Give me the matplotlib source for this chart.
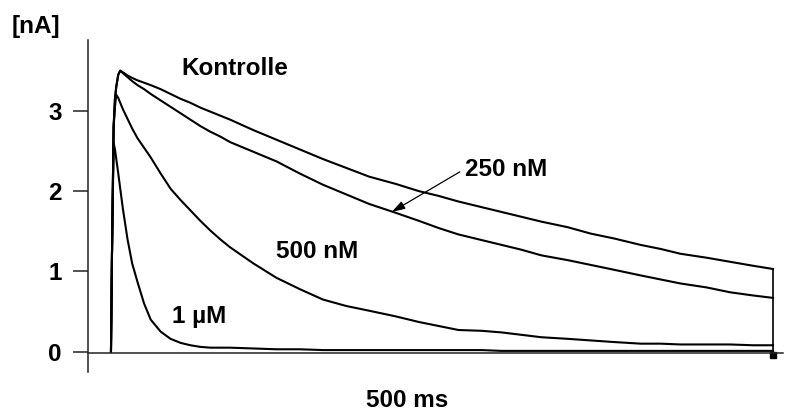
import matplotlib
matplotlib.use("Agg")
import matplotlib.pyplot as plt

plt.rcParams['font.family'] = ['Liberation Sans', 'DejaVu Sans']

# Sampling times (ms) after the voltage step
time_ms = [0, 1.5, 4, 6, 8, 11, 14, 18, 25, 32, 40, 50, 60, 75, 90, 105, 120,
           135, 150, 165, 180, 215, 250, 285, 320, 355, 390, 430, 465, 495,
           525, 560, 590, 620, 650, 690, 725, 760, 800, 830, 860, 900, 935,
           970, 1000]

# Current traces (nA)
kontrolle = [0, 1.2, 2.8, 3.15, 3.3, 3.45, 3.50, 3.48, 3.44, 3.41, 3.38, 3.35,
             3.32, 3.27, 3.21, 3.15, 3.10, 3.04, 2.99, 2.94, 2.89, 2.76, 2.64,
             2.52, 2.40, 2.29, 2.18, 2.09, 2.00, 1.94, 1.87, 1.80, 1.74, 1.68,
             1.62, 1.55, 1.47, 1.41, 1.33, 1.28, 1.22, 1.17, 1.12, 1.07, 1.03]
nm_250 = [0, 1.2, 2.8, 3.15, 3.3, 3.45, 3.50, 3.47, 3.42, 3.37, 3.32, 3.27,
          3.21, 3.13, 3.05, 2.97, 2.89, 2.81, 2.74, 2.68, 2.61, 2.49, 2.37,
          2.22, 2.08, 1.96, 1.84, 1.73, 1.63, 1.54, 1.46, 1.39, 1.33, 1.27,
          1.20, 1.14, 1.08, 1.02, 0.95, 0.90, 0.85, 0.80, 0.74, 0.70, 0.67]
nm_500 = [0, 1.2, 2.8, 3.05, 3.20, 3.16, 3.10, 3.02, 2.90, 2.78, 2.66, 2.54,
          2.42, 2.22, 2.03, 1.89, 1.76, 1.63, 1.51, 1.40, 1.30, 1.10, 0.92,
          0.78, 0.65, 0.57, 0.51, 0.44, 0.37, 0.32, 0.27, 0.26, 0.24, 0.21,
          0.18, 0.16, 0.14, 0.12, 0.10, 0.10, 0.09, 0.09, 0.09, 0.08, 0.08]
um_1 = [0, 1.2, 2.60, 2.52, 2.40, 2.22, 2.03, 1.78, 1.40, 1.10, 0.87, 0.60,
        0.40, 0.25, 0.16, 0.11, 0.08, 0.06, 0.05, 0.05, 0.05, 0.04, 0.03,
        0.03, 0.02, 0.02, 0.02, 0.02, 0.02, 0.02, 0.02, 0.02, 0.01, 0.01,
        0.01, 0.01, 0.01, 0.01, 0.01, 0.01, 0.01, 0.01, 0.01, 0.01, 0.01]

yticks = [0, 1, 2, 3]
ytick_labels = ["0", "1", "2", "3"]

fig = plt.figure(figsize=(7.88, 4.12), dpi=100)
ax = fig.add_axes([88 / 788, 40 / 412, 695 / 788, 332 / 412])

lw = 1.5
for trace in (kontrolle, nm_250, nm_500, um_1):
    ax.plot(time_ms, trace, color="black", lw=lw, solid_joinstyle="round")

# end of the sweep: return to baseline
ax.vlines(time_ms[-1], -0.03, kontrolle[-1], color="black", lw=1.2)
ax.plot([time_ms[-1]], [-0.04], marker="s", ms=4, color="black")

ax.set_xlim(-34.7, 1015.1)
ax.set_ylim(-0.253, 3.882)

for s in ("top", "right"):
    ax.spines[s].set_visible(False)
ax.spines["bottom"].set_position(("data", -0.02))
ax.spines["left"].set_linewidth(1.1)
ax.spines["bottom"].set_linewidth(1.1)
ax.spines["left"].set_color("#222222")
ax.spines["bottom"].set_color("#222222")

ax.set_xticks([])
ax.set_yticks(yticks)
ax.set_yticklabels(ytick_labels, fontsize=17.5, fontweight="bold")
ax.tick_params(axis="y", direction="out", length=11, width=1.1, pad=8,
               color="#222222")

tkw = dict(fontsize=17.5, fontweight="bold", color="black", va="baseline", ha="left")
ax.text(107, 3.44, "Kontrolle", **tkw)
ax.text(535, 2.19, "250 nM", **tkw)
ax.text(250, 1.163, "500 nM", **tkw)
ax.text(92, 0.354, "1 µM", **tkw)

ax.annotate("", xy=(424, 1.74), xytext=(527, 2.24),
            arrowprops=dict(arrowstyle="-|>,head_length=0.8,head_width=0.25",
                            color="black", lw=0.9, shrinkA=0, shrinkB=0))

fig.text(12 / 788, (412 - 33) / 412, "[nA]", fontsize=17.5, fontweight="bold",
         ha="left", va="baseline")
fig.text(407 / 788, (412 - 407) / 412, "500 ms", fontsize=17.5, fontweight="bold",
         ha="center", va="baseline")

fig.savefig("out.png", dpi=100)
